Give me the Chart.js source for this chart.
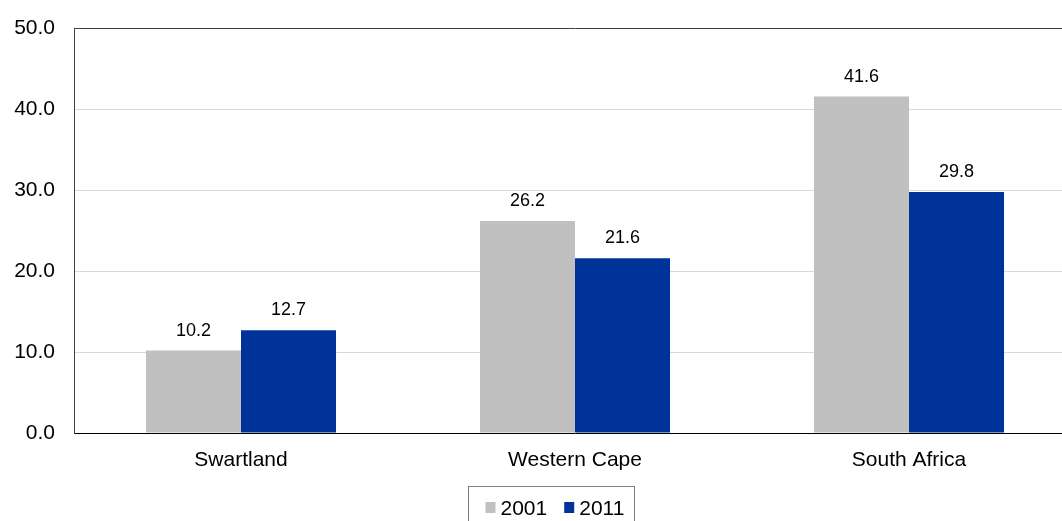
<!DOCTYPE html>
<html>
<head>
<meta charset="utf-8">
<script src="https://cdn.jsdelivr.net/npm/chart.js@4/dist/chart.umd.min.js"></script>
<style>
  html, body { margin: 0; padding: 0; background: #fff; }
  #wrap { width: 1062px; height: 521px; overflow: hidden; position: relative; }
  #c { display: block; margin-top: -3px; }
</style>
</head>
<body>
<div id="wrap"><canvas id="c" width="1102" height="533"></canvas></div>
<script>
// Regions compared
const categories = ['Swartland', 'Western Cape', 'South Africa'];
// Values per census year
const values2001 = [10.2, 26.2, 41.6];
const values2011 = [12.7, 21.6, 29.8];
// Series names
const seriesNames = ['2001', '2011'];
// Y axis range
const yMin = 0, yMax = 50, yStep = 10;

const FONT = 'Liberation Sans, Arial, Helvetica, sans-serif';
const colors = ['#C0C0C0', '#003399'];
const SHIFT = 3; // canvas is raised by this many pixels inside the frame

// Value labels above each bar
const valueLabels = {
  id: 'valueLabels',
  afterDatasetsDraw(chart) {
    const ctx = chart.ctx;
    ctx.save();
    ctx.font = '18px ' + FONT;
    ctx.fillStyle = '#000';
    ctx.textAlign = 'center';
    ctx.textBaseline = 'alphabetic';
    chart.data.datasets.forEach((ds, i) => {
      chart.getDatasetMeta(i).data.forEach((bar, j) => {
        ctx.fillText(ds.data[j].toFixed(1), bar.x, bar.y - 15);
      });
    });
    ctx.restore();
  }
};

// Boxed legend under the axis
const boxedLegend = {
  id: 'boxedLegend',
  afterDraw(chart) {
    const ctx = chart.ctx;
    ctx.save();
    const left = 468;
    const top = 486 + SHIFT;
    ctx.strokeStyle = '#808080';
    ctx.lineWidth = 1;
    ctx.strokeRect(left + 0.5, top + 0.5, 166, 60);
    ctx.font = '21px ' + FONT;
    ctx.textBaseline = 'alphabetic';
    ctx.textAlign = 'left';
    let x = left + 17.5;
    chart.data.datasets.forEach((ds) => {
      ctx.fillStyle = ds.backgroundColor;
      ctx.fillRect(x, top + 16, 10, 11);
      ctx.fillStyle = '#000';
      ctx.fillText(ds.label, x + 15, top + 29);
      x += 15 + ctx.measureText(ds.label).width + 17;
    });
    ctx.restore();
  }
};

new Chart(document.getElementById('c'), {
  type: 'bar',
  data: {
    labels: categories,
    datasets: [
      { label: seriesNames[0], data: values2001, backgroundColor: colors[0] },
      { label: seriesNames[1], data: values2011, backgroundColor: colors[1] }
    ]
  },
  options: {
    responsive: false,
    devicePixelRatio: 1,
    animation: false,
    layout: { padding: { left: 0, right: 26, top: 25, bottom: 0 } },
    datasets: { bar: { barPercentage: 1.0, categoryPercentage: 0.569 } },
    plugins: {
      legend: { display: false },
      tooltip: { enabled: false }
    },
    scales: {
      x: {
        grid: { display: false, drawTicks: false },
        border: { display: true, color: '#000', width: 1 },
        ticks: { color: '#000', font: { family: FONT, size: 21 }, padding: 15 },
        afterFit(scale) { scale.height = 97; }
      },
      y: {
        min: yMin, max: yMax,
        grid: {
          drawTicks: false,
          color(ctx) {
            if (ctx.tick && ctx.tick.value === yMax) return '#404040';
            if (ctx.tick && ctx.tick.value === yMin) return 'rgba(0,0,0,0)';
            return '#D9D9D9';
          }
        },
        border: { display: true, color: '#404040', width: 1 },
        ticks: {
          stepSize: yStep, color: '#000', padding: 19,
          font: { family: FONT, size: 21 },
          callback: v => Number(v).toFixed(1)
        },
        afterFit(scale) { scale.width = 74; }
      }
    }
  },
  plugins: [valueLabels, boxedLegend]
});
</script>
</body>
</html>
